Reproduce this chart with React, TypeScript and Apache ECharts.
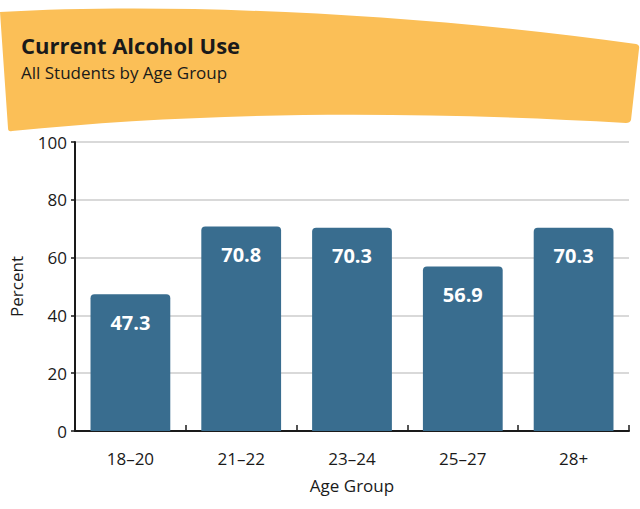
import React, { useEffect, useRef } from "react";
import * as echarts from "echarts";

const categories = ["18–20", "21–22", "23–24", "25–27", "28+"];
const values = [47.3, 70.8, 70.3, 56.9, 70.3];
const titleText = "Current Alcohol Use";
const subtitleText = "All Students by Age Group";
const yAxisName = "Percent";
const xAxisName = "Age Group";

const bannerPath =
  "M0 12 C 180 2, 420 14, 636 44 Q 640 45 639 49 L 631 120 Q 630 123 626 123 C 400 110, 200 112, 12 131 Q 8 132 8 128 Z";

let registered = false;
function ensureShape() {
  if (registered) return;
  registered = true;
  echarts.graphic.registerShape("banner", echarts.graphic.extendPath(bannerPath, {}) as any);
}

const FONT = "'Open Sans', 'Noto Sans', sans-serif";

export default function App() {
  const ref = useRef<HTMLDivElement>(null);
  useEffect(() => {
    ensureShape();
    const chart = echarts.init(ref.current!, null, { renderer: "svg" });
    chart.setOption({
      animation: false,
      textStyle: { fontFamily: FONT },
      graphic: [
        {
          type: "banner",
          x: 0,
          y: 0,
          scaleX: 1,
          scaleY: 1,
          z: 0,
          style: { fill: "#FBBF57" },
        },
        {
          type: "text",
          left: 21,
          top: 33,
          style: {
            text: titleText,
            fill: "#1a1a1a",
            font: `bold 22px ${FONT}`,
            lineHeight: 24,
          },
        },
        {
          type: "text",
          left: 21,
          top: 63,
          style: {
            text: subtitleText,
            fill: "#1a1a1a",
            font: `17px ${FONT}`,
            lineHeight: 18,
          },
        },
      ],
      grid: { left: 75, right: 11, top: 142, bottom: 78 },
      xAxis: {
        type: "category",
        data: categories,
        name: xAxisName,
        nameLocation: "middle",
        nameGap: 46,
        nameTextStyle: { fontSize: 17, color: "#1a1a1a", fontFamily: FONT },
        axisLine: { lineStyle: { color: "#1a1a1a", width: 2 } },
        axisTick: { show: true, inside: true, length: 6, lineStyle: { color: "#1a1a1a", width: 1.5 } },
        axisLabel: { fontSize: 17, color: "#1a1a1a", margin: 19, fontFamily: FONT },
      },
      yAxis: {
        type: "value",
        min: 0,
        max: 100,
        interval: 20,
        name: yAxisName,
        nameLocation: "middle",
        nameGap: 50,
        nameTextStyle: { fontSize: 17, color: "#1a1a1a", fontFamily: FONT },
        axisLine: { show: true, lineStyle: { color: "#1a1a1a", width: 2 } },
        axisTick: { show: true, length: 4, lineStyle: { color: "#1a1a1a", width: 1.5 } },
        axisLabel: { fontSize: 17, color: "#1a1a1a", margin: 8, fontFamily: FONT },
        splitLine: { lineStyle: { color: "#d9d9d9", width: 2 } },
      },
      series: [
        {
          type: "bar",
          data: values,
          barWidth: "72%",
          itemStyle: { color: "#396D8F", borderRadius: [4, 4, 0, 0] },
          label: {
            show: true,
            position: "insideTop",
            distance: 18,
            color: "#ffffff",
            fontSize: 20,
            fontWeight: "bold",
            fontFamily: FONT,
            formatter: (p: any) => p.value.toFixed(1),
          },
        },
      ],
    });
    return () => chart.dispose();
  }, []);
  return <div ref={ref} style={{ width: 640, height: 509, position: "absolute", left: 0, top: 0 }} />;
}
